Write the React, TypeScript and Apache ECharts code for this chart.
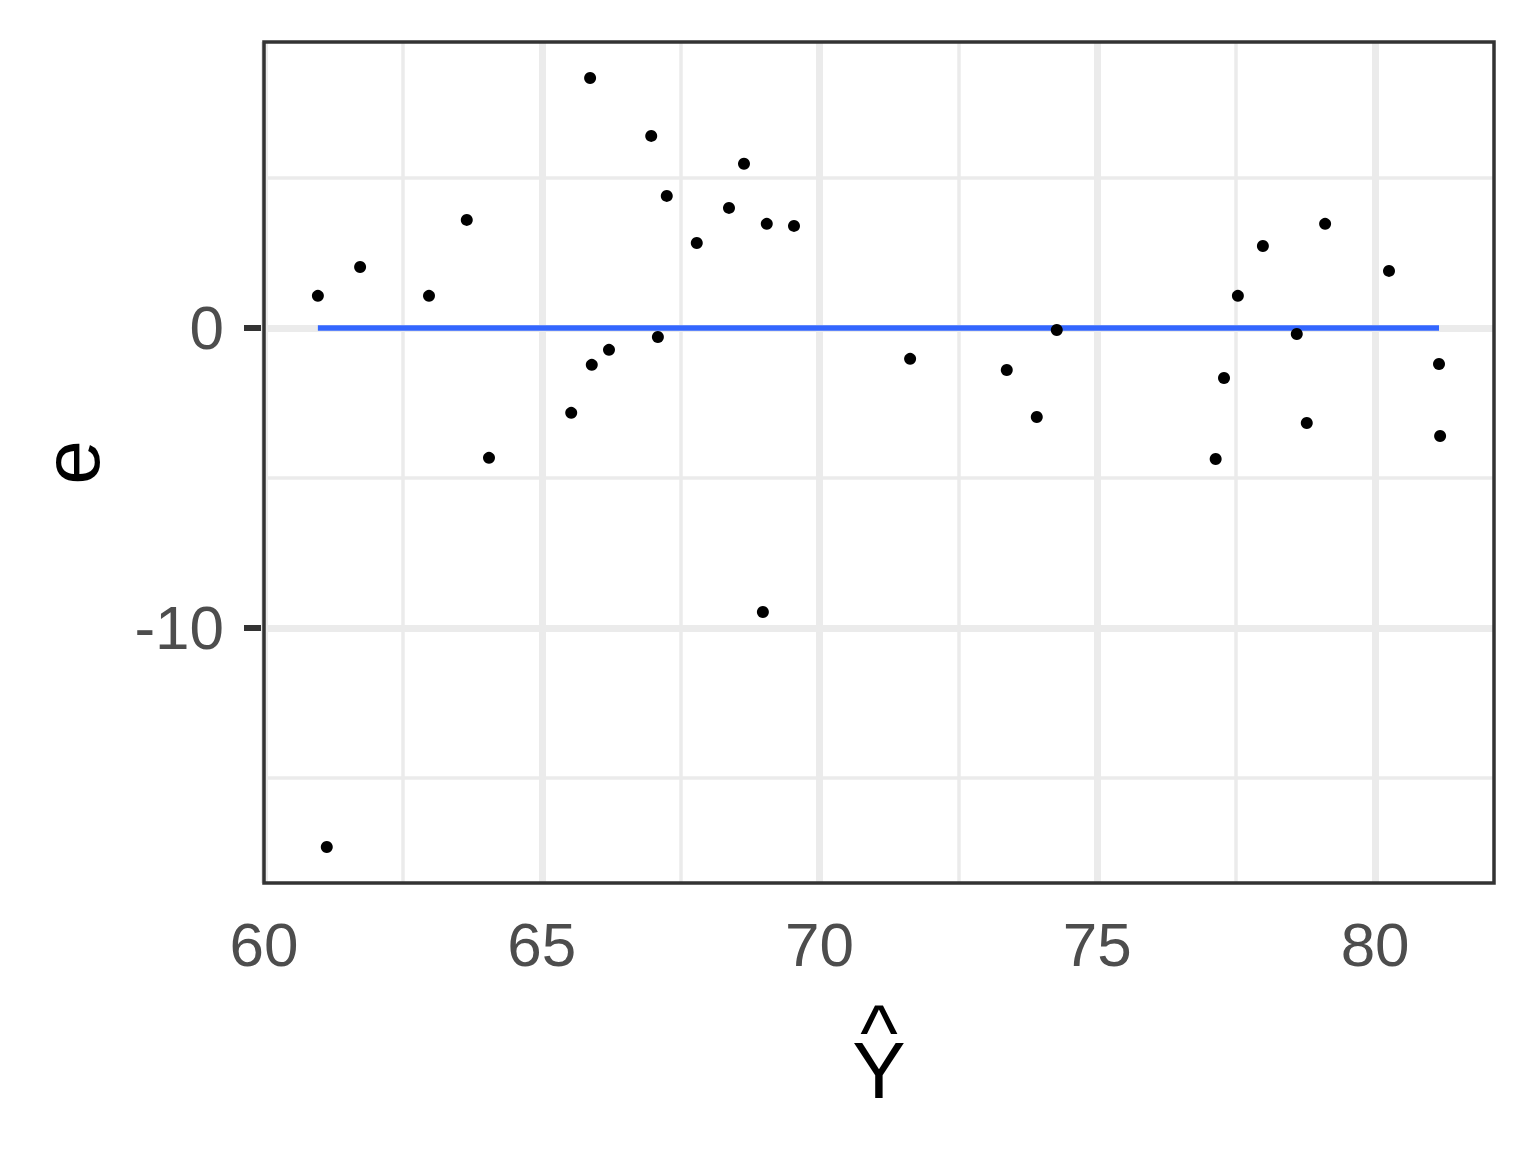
import React, { useEffect, useRef } from "react";
import * as echarts from "echarts";

const fitted = [60.97, 61.73, 62.97, 63.65, 64.05, 61.13, 65.87, 65.53, 65.9, 66.21, 66.97, 67.25, 67.09, 67.79, 68.37, 68.64, 69.05, 69.54, 68.98, 71.63, 73.37, 73.91, 74.27, 77.13, 77.28, 77.53, 77.98, 78.59, 78.77, 79.1, 80.25, 81.15, 81.17];
const residuals = [1.07, 2.03, 1.07, 3.6, -4.33, -17.3, 8.33, -2.83, -1.23, -0.73, 6.4, 4.4, -0.3, 2.83, 4.0, 5.47, 3.47, 3.4, -9.47, -1.03, -1.4, -2.97, -0.07, -4.37, -1.67, 1.07, 2.73, -0.2, -3.17, 3.47, 1.9, -1.2, -3.6];
const xTicks = [60, 65, 70, 75, 80];
const xMinor = [62.5, 67.5, 72.5, 77.5];
const yTicks = [-10, 0];
const yMinor = [-15, -5, 5];
const xRange = [60, 82.14];
const yRange = [-18.5, 9.53];
const fitLine = [[60.97, 0], [81.15, 0]];

const FONT = "'Liberation Sans', Arial, Helvetica, sans-serif";

export default function App() {
  const ref = useRef<HTMLDivElement>(null);
  useEffect(() => {
    if (!ref.current) return;
    const chart = echarts.init(ref.current, undefined, { renderer: "svg" });
    const gl = (axis: "xAxis" | "yAxis", v: number, w: number) => ({
      [axis]: v,
      lineStyle: { color: "#EBEBEB", width: w, type: "solid" },
    });
    chart.setOption({
      animation: false,
      backgroundColor: "#FFFFFF",
      grid: {
        left: 264,
        top: 42,
        right: 42,
        bottom: 269,
        show: true,
        borderColor: "#333333",
        borderWidth: 3.5,
        backgroundColor: "transparent",
        z: 10,
      },
      xAxis: {
        type: "value",
        min: xRange[0],
        max: xRange[1],
        interval: 5,
        name: "{h|^}\n{y|Y}",
        nameLocation: "middle",
        nameGap: 131,
        nameTextStyle: {
          fontFamily: FONT,
          fontSize: 80,
          color: "#000000",
          rich: {
            h: { fontFamily: FONT, fontSize: 80, lineHeight: 36, color: "#000000" },
            y: { fontFamily: FONT, fontSize: 80, lineHeight: 40, color: "#000000" },
          },
        },
        axisLine: { show: false },
        axisTick: {
          show: true,
          customValues: xTicks,
          length: 20,
          lineStyle: { color: "#333333", width: 6 },
        },
        axisLabel: {
          customValues: xTicks,
          margin: 30,
          fontFamily: FONT,
          fontSize: 62,
          color: "#4D4D4D",
        },
        splitLine: { show: false },
      },
      yAxis: {
        type: "value",
        min: yRange[0],
        max: yRange[1],
        name: "e",
        nameLocation: "middle",
        nameGap: 153,
        nameRotate: 90,
        nameTextStyle: { fontFamily: FONT, fontSize: 80, color: "#000000" },
        axisLine: { show: false },
        axisTick: {
          show: true,
          customValues: yTicks,
          length: 20,
          lineStyle: { color: "#333333", width: 6 },
        },
        axisLabel: {
          customValues: yTicks,
          margin: 40,
          fontFamily: FONT,
          fontSize: 62,
          color: "#4D4D4D",
        },
        splitLine: { show: false },
      },
      series: [
        {
          type: "line",
          data: [],
          z: 1,
          silent: true,
          markLine: {
            z: 1,
            silent: true,
            symbol: "none",
            label: { show: false },
            animation: false,
            data: [
              ...xMinor.map((v) => gl("xAxis", v, 3.5)),
              ...yMinor.map((v) => gl("yAxis", v, 3.5)),
              ...xTicks.map((v) => gl("xAxis", v, 7)),
              ...yTicks.map((v) => gl("yAxis", v, 7)),
            ],
          },
        },
        {
          type: "line",
          data: fitLine,
          z: 6,
          symbol: "none",
          silent: true,
          lineStyle: { color: "#3366FF", width: 5.5 },
        },
        {
          type: "scatter",
          data: fitted.map((x, i) => [x, residuals[i]]),
          z: 7,
          symbol: "circle",
          symbolSize: 12,
          itemStyle: { color: "#000000", opacity: 1 },
        },
      ],
    });
    return () => chart.dispose();
  }, []);
  return (
    <div
      ref={ref}
      style={{ position: "absolute", left: 0, top: 0, width: 1536, height: 1152 }}
    />
  );
}
